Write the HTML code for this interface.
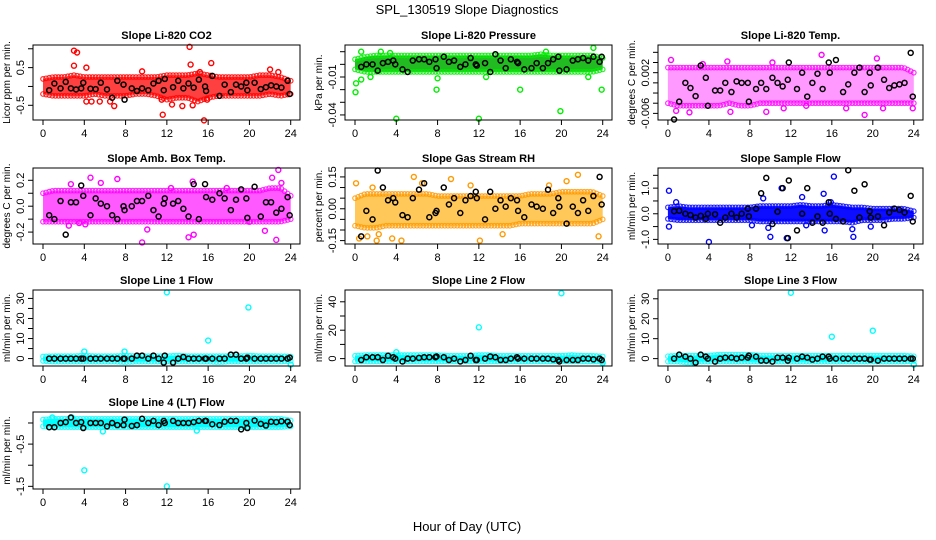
<!DOCTYPE html>
<html><head><meta charset="utf-8">
<style>
html,body{margin:0;padding:0;background:#fff;}
svg{display:block;font-family:"Liberation Sans",Arial,sans-serif;}
</style></head>
<body>
<svg id="chart" width="936" height="540" viewBox="0 0 936 540" xmlns="http://www.w3.org/2000/svg">
<rect x="0" y="0" width="936" height="540" fill="#fff"/>
<text x="467" y="14" font-size="13" text-anchor="middle">SPL_130519  Slope Diagnostics</text>
<text x="467" y="531" font-size="13" text-anchor="middle">Hour of Day (UTC)</text>
</svg>
<script>
const hourTicks=[0,4,8,12,16,20,24];
const blackX=[0.6,1.1,1.7,2.2,2.7,3.2,3.7,3.9,4.6,5.1,5.6,6.2,6.7,7.2,7.8,7.9,8.6,9.1,9.6,10.2,10.7,11.2,11.7,11.8,12.6,13.1,13.6,14.1,14.6,15.1,15.7,15.8,16.4,17.1,17.6,18.2,18.7,19.2,19.7,19.8,20.5,21.1,21.6,22.1,22.6,23.1,23.7,23.9];

const co2Low=[-0.2,-0.25,-0.25,-0.25,-0.25,-0.2,-0.25,-0.25,-0.25,-0.2,-0.2,-0.25,-0.35,-0.3,-0.3,-0.4,-0.3,-0.25,-0.25,-0.25,-0.25,-0.25,-0.2,-0.25,-0.2];
const co2High=[0.2,0.25,0.25,0.3,0.25,0.25,0.25,0.25,0.25,0.25,0.25,0.25,0.3,0.3,0.3,0.35,0.3,0.25,0.25,0.25,0.25,0.3,0.3,0.25,0.15];
const co2Out=[[3,0.95],[3.3,0.9],[3,0.55],[4.2,0.5],[4.2,-0.4],[4.7,-0.4],[5.5,-0.4],[6.5,-0.4],[6.9,-0.52],[9.6,0.4],[11.6,-0.75],[11.5,-0.35],[12.5,-0.48],[13.5,-0.52],[14.2,1.05],[14.3,0.58],[14.5,-0.5],[15.2,0.38],[15.6,-0.9],[16.3,0.62],[15.9,-0.35],[22.8,0.38],[22,0.45]];
const co2Black=[-0.1,0.08,-0.05,0.12,-0.05,-0.08,-0.05,0.1,-0.06,-0.07,0.1,-0.08,-0.3,0.15,0.05,-0.35,-0.05,-0.12,-0.05,-0.1,0.08,0.15,-0.1,0.2,-0.02,0.15,-0.05,0.08,-0.03,0.18,0.0,-0.12,0.28,-0.25,0.05,-0.15,0.05,0.0,0.1,-0.1,0.1,-0.07,-0.02,0.03,0.0,-0.03,0.15,-0.2];

const presLow=[-0.004,-0.006,-0.006,-0.006,-0.006,-0.006,-0.006,-0.006,-0.006,-0.006,-0.006,-0.006,-0.006,-0.006,-0.006,-0.006,-0.006,-0.006,-0.006,-0.006,-0.006,-0.006,-0.006,-0.006,-0.004];
const presHigh=[0.004,0.006,0.007,0.007,0.007,0.007,0.007,0.007,0.007,0.007,0.007,0.007,0.007,0.007,0.007,0.007,0.007,0.007,0.008,0.007,0.007,0.007,0.007,0.007,0.005];
const presOut=[[0.05,-0.022],[0.1,-0.015],[0.6,0.01],[0.6,-0.012],[1.5,-0.01],[2.5,0.01],[3.4,0.009],[4.0,-0.043],[7.9,-0.02],[8.0,-0.011],[12,-0.043],[12.7,-0.01],[16,-0.02],[19.9,-0.037],[23.1,0.013],[23.9,-0.02],[22.6,-0.01],[18.5,0.01]];
const presBlack=[-0.002,0,0,-0.005,0.001,0.002,0.003,0,-0.004,-0.006,0.003,0.004,0.004,0.002,0.004,-0.003,0.006,0.002,0.003,-0.002,0,0.005,0,-0.001,0.001,-0.006,0.008,0.003,-0.003,0.004,0.002,0.001,-0.004,-0.003,0.001,-0.003,0.001,0.004,0.006,-0.005,-0.004,0.003,0.004,0.005,0.003,0.006,0.002,0.006];

const tempLow=[-0.004,-0.0045,-0.0045,-0.0045,-0.0045,-0.0045,-0.004,-0.0045,-0.0045,-0.004,-0.004,-0.004,-0.004,-0.004,-0.004,-0.004,-0.004,-0.004,-0.004,-0.004,-0.004,-0.004,-0.004,-0.004,-0.004];
const tempHigh=[0.003,0.003,0.003,0.003,0.003,0.003,0.003,0.003,0.003,0.003,0.003,0.003,0.003,0.003,0.003,0.003,0.003,0.003,0.003,0.003,0.003,0.003,0.003,0.003,0.002];
const tempOut=[[0.3,0.0045],[0.8,-0.0055],[15,0.0055],[19.2,-0.0063],[20.4,0.0048],[10.2,0.004],[5.8,0.0042],[9.6,-0.0057],[6.1,-0.0057],[2.1,-0.0058],[23.9,-0.005],[17.4,-0.005],[13.5,-0.0045],[3.4,0.0037],[11.3,-0.005],[21,-0.005]];
const tempBlack=[-0.0072,-0.0037,0,-0.001,-0.0026,0.0034,0.001,-0.0045,-0.0015,-0.0015,0,-0.0018,0.0003,0,0,-0.0037,-0.0012,0,-0.0012,0.001,0,-0.0007,0.0006,0.004,-0.0012,0.002,-0.0027,0,0.0018,-0.0012,0.004,0.002,0.0045,-0.0018,-0.0003,0.002,0.003,-0.0018,0.002,-0.0005,0.003,0.0006,-0.001,-0.0005,-0.0003,0,0.0059,-0.0027];

const ambLow=[-0.12,-0.12,-0.12,-0.12,-0.12,-0.12,-0.12,-0.12,-0.12,-0.12,-0.12,-0.12,-0.12,-0.12,-0.12,-0.12,-0.12,-0.12,-0.12,-0.12,-0.12,-0.12,-0.12,-0.12,-0.1];
const ambHigh=[0.1,0.12,0.12,0.12,0.12,0.12,0.12,0.12,0.12,0.12,0.12,0.12,0.12,0.12,0.12,0.12,0.12,0.12,0.12,0.12,0.12,0.12,0.14,0.14,0.08];
const ambOut=[[2.5,-0.15],[2.7,0.17],[3.5,-0.13],[4.6,0.22],[5.6,0.18],[7.2,0.21],[9.6,-0.28],[10.1,-0.18],[12.4,0.14],[14.1,-0.24],[14.6,-0.22],[14.5,0.19],[17.8,0.14],[20,-0.12],[21.5,-0.19],[22.2,0.22],[22.6,-0.26],[22.8,0.28],[23.1,0.18],[4.1,-0.14]];
const ambBlack=[-0.07,-0.1,0.04,-0.22,0.03,0.03,0.16,0.08,-0.07,0.06,0.02,0,-0.07,-0.1,0,-0.03,0,0.04,0.04,0.08,-0.03,-0.08,0.02,0.06,0.02,0.04,-0.02,-0.08,0.17,-0.1,0.17,0.07,0.05,0.1,0.06,-0.03,0.05,0.13,0.06,-0.09,0.15,-0.08,0.03,0.03,-0.05,-0.02,0.07,-0.07];

const rhLow=[-0.08,-0.09,-0.09,-0.08,-0.08,-0.08,-0.08,-0.08,-0.08,-0.08,-0.08,-0.08,-0.08,-0.08,-0.08,-0.08,-0.07,-0.07,-0.07,-0.07,-0.07,-0.07,-0.07,-0.07,-0.05];
const rhHigh=[0.05,0.07,0.07,0.07,0.07,0.07,0.07,0.07,0.06,0.06,0.06,0.06,0.06,0.06,0.06,0.06,0.06,0.07,0.07,0.07,0.08,0.08,0.08,0.08,0.06];
const rhOut=[[0.1,0.12],[0.4,-0.14],[1.2,-0.13],[2.1,-0.15],[2.3,-0.12],[3.6,-0.14],[4.5,-0.15],[5.7,0.15],[6.5,0.12],[9.3,0.14],[11.2,0.11],[12.1,-0.15],[14.3,-0.12],[21.6,0.16],[23.6,-0.13],[1.7,0.1],[18.8,0.11],[20.5,0.13]];
const rhBlack=[-0.13,-0.01,-0.05,0.18,0.1,0.04,0.05,0.03,-0.03,-0.04,0.05,0.09,0.12,-0.04,-0.02,-0.01,0.1,0.02,0.05,-0.02,0.04,0.06,0.08,0.05,-0.05,0.08,0,0.04,0.01,0.05,0.04,-0.01,-0.04,0.02,0.01,0,0.09,-0.02,0.05,0.01,-0.07,0.01,-0.02,0.04,-0.01,0.06,0.15,0.02];

const flowLow=[-0.2,-0.25,-0.25,-0.25,-0.25,-0.25,-0.25,-0.25,-0.25,-0.3,-0.3,-0.3,-0.3,-0.3,-0.3,-0.3,-0.3,-0.3,-0.35,-0.25,-0.25,-0.25,-0.2,-0.2,-0.15];
const flowHigh=[0.25,0.3,0.25,0.25,0.25,0.25,0.25,0.25,0.25,0.3,0.3,0.3,0.3,0.35,0.3,0.3,0.35,0.3,0.25,0.25,0.2,0.2,0.2,0.2,0.1];
const flowOut=[[0.1,0.9],[0.1,-0.5],[0.8,0.45],[4,-1.1],[8.2,-0.45],[9.3,0.6],[9.8,-0.55],[10,-0.9],[11.1,1.0],[11.6,-0.95],[13.1,0.65],[13.5,-0.45],[15.2,0.78],[15.3,-0.65],[16.2,1.45],[18.1,-0.9],[18,-0.6],[19.8,-0.5],[15.9,0.45]];
const flowBlack=[0.1,0.12,0,-0.05,-0.15,-0.08,-0.2,0,-0.02,-0.35,-0.15,0,-0.15,0,0.2,-0.1,0.2,0.8,1.4,-0.4,0.08,1.0,-0.95,1.3,-0.65,0,1.0,-0.35,-0.1,-0.35,0.45,0,-0.2,-0.3,1.7,0.9,-0.15,1.15,0.1,-0.15,-0.1,-0.45,0.05,0.2,0.15,0.05,0.7,-0.3];

const l1Low=[-1.2,-1.5,-1.5,-1.5,-1.5,-1.5,-1.5,-1.5,-1.8,-1.5,-1.5,-1.5,-1.5,-1.5,-1.5,-1.5,-1.5,-1.8,-1.5,-1.5,-1.5,-1.5,-1.5,-1.5,-1.2];
const l1High=[1.0,1.2,1.2,1.2,1.5,1.2,1.2,1.2,1.5,1.2,1.2,1.2,1.2,1.5,1.2,1.2,1.2,1.2,1.2,1.2,1.5,1.2,1.2,1.2,1.0];
const l1Out=[[4,3.5],[7.9,3.5],[12,33],[16,9],[19.9,25.5],[24,-3]];
const l1Black=[0,0,0,0,0,0,0,0,0,0,0,0,0,0,0,0,0,1.5,1.5,0,1.5,0,-2,1.5,-2,0,0.8,0,0,0,0,0,0,0,0,2,2,0,0,0.5,0,0,0,0,0,0,0,0.5];

const l2Low=[-2,-2,-2,-2,-2,-2,-2,-2,-2,-2,-2,-2,-2,-2,-2,-2,-2,-2,-2,-2,-2,-2,-2,-2,-2];
const l2High=[2,2.5,2.5,2.5,2.5,2.5,2.5,2.5,2.5,2,2,2,2.5,2.5,2,2,2,2,2,2,2,2.5,2,2,1.5];
const l2Out=[[4,4.5],[12,22],[20,46],[24,-3]];
const l2Black=[-1,1,1,1,-1,2,1,0,-2,0,0,0.5,1,1,1,1.5,1,-1,0,-2,-1,2,-1,-1,0,1.5,1,-1,-1,0,1,0,0,0,0,0,0,-0.5,-1,-2,-1,-1,-1,0,0,-0.5,0,-1];

const l3Low=[-1.5,-1.5,-2,-1.5,-1.5,-1.5,-1.5,-1.5,-1.5,-1.5,-1.5,-1.5,-1.5,-1.5,-1.5,-1.5,-1.5,-1.5,-1.5,-1.5,-1.5,-1.5,-1.5,-1.5,-1.2];
const l3High=[1.2,1.5,1.5,1.5,1.5,2,2,2,2,1.5,1.5,1.5,1.5,1.5,1.5,1.5,1.5,1.5,1.5,1.5,1.5,1.5,1.5,1.5,1.2];
const l3Out=[[12,33],[16,11],[20,14],[24,-3],[2.5,-2]];
const l3Black=[0,2,1,0,-2,2,1,0,-1.5,0,0.5,0.5,0,0.5,0.5,1.5,1,-1,-1,-1.5,0.5,0.5,-1,0.5,0,1,0.5,-0.5,0,1,1,0,0,0,0,0,0,0,-0.5,-0.5,-1,0,0,0,0,0,0,0];

const l4Low=[-0.08,-0.1,-0.1,-0.1,-0.1,-0.1,-0.1,-0.1,-0.1,-0.1,-0.1,-0.1,-0.1,-0.1,-0.1,-0.1,-0.1,-0.1,-0.1,-0.1,-0.1,-0.1,-0.1,-0.1,-0.08];
const l4High=[0.08,0.1,0.1,0.1,0.1,0.1,0.1,0.1,0.1,0.1,0.1,0.1,0.1,0.1,0.1,0.1,0.1,0.1,0.1,0.1,0.1,0.1,0.1,0.1,0.06];
const l4Out=[[4,-1.12],[12,-1.5],[0.9,0.13],[2.8,0.13],[5.8,-0.2],[14.9,-0.18]];
const l4Black=[-0.1,-0.1,0.0,0.02,0.13,0.0,0.02,-0.12,0.0,0.0,0.0,-0.08,0.0,-0.05,-0.05,0.08,-0.07,-0.05,0.1,0.0,0.05,-0.05,0.05,0.0,0.05,0.0,0.0,0.0,0.02,0.05,0.05,0.05,-0.03,-0.05,0.03,0.05,0.05,-0.15,0.0,-0.12,0.06,-0.02,-0.06,0.03,0.02,0.04,0.03,-0.05];

const cols=[[33,300],[345,612],[658,923]];
const rows=[[45,120],[168,244],[290,366],[412,489]];
const panels=[
 {name:'co2',title:'Slope Li-820 CO2',ylab:'Licor ppm per min.',c:0,r:0,y0:-0.89,y1:1.10,ticks:[-0.5,0,0.5,1.0],labels:{'-0.5':'-0.5','0.5':'0.5'},low:co2Low,high:co2High,out:co2Out,blk:co2Black,col:'#ff0000',fill:'#ff0000',op:0.75},
 {name:'pressure',title:'Slope Li-820 Pressure',ylab:'kPa per min.',c:1,r:0,y0:-0.044,y1:0.0153,ticks:[-0.04,-0.03,-0.02,-0.01,0,0.01],labels:{'-0.04':'-0.04','-0.01':'-0.01'},low:presLow,high:presHigh,out:presOut,blk:presBlack,col:'#00ee00',fill:'#22bb22',op:1},
 {name:'li820-temp',title:'Slope Li-820 Temp.',ylab:'degrees C per min.',c:2,r:0,y0:-0.0073,y1:0.00744,ticks:[-0.006,-0.004,-0.002,0,0.002,0.004,0.006],labels:{'-0.006':'-0.006','0.002':'0.002'},low:tempLow,high:tempHigh,out:tempOut,blk:tempBlack,col:'#ff00ff',fill:'#ff00ff',op:0.4},
 {name:'amb-box-temp',title:'Slope Amb. Box Temp.',ylab:'degrees C per min.',c:0,r:1,y0:-0.292,y1:0.295,ticks:[-0.2,-0.1,0,0.1,0.2],labels:{'-0.2':'-0.2','0':'0.0','0.2':'0.2'},low:ambLow,high:ambHigh,out:ambOut,blk:ambBlack,col:'#ff00ff',fill:'#ff00ff',op:0.65},
 {name:'gas-stream-rh',title:'Slope Gas Stream RH',ylab:'percent per min.',c:1,r:1,y0:-0.166,y1:0.192,ticks:[-0.15,-0.1,-0.05,0,0.05,0.1,0.15],labels:{'-0.15':'-0.15','0':'0.00','0.15':'0.15'},low:rhLow,high:rhHigh,out:rhOut,blk:rhBlack,col:'#ff9900',fill:'#ffaa00',op:0.65},
 {name:'sample-flow',title:'Slope Sample Flow',ylab:'ml/min per min.',c:2,r:1,y0:-1.18,y1:1.786,ticks:[-1,-0.5,0,0.5,1,1.5],labels:{'-1':'-1.0','0':'0.0','1':'1.0'},low:flowLow,high:flowHigh,out:flowOut,blk:flowBlack,col:'#0000ff',fill:'#0000ff',op:0.95},
 {name:'line1-flow',title:'Slope Line 1 Flow',ylab:'ml/min per min.',c:0,r:2,y0:-3.7,y1:34.2,ticks:[0,5,10,15,20,25,30],labels:{'0':'0','10':'10','20':'20','30':'30'},low:l1Low,high:l1High,out:l1Out,blk:l1Black,col:'#00ffff',fill:'#00ffff',op:1},
 {name:'line2-flow',title:'Slope Line 2 Flow',ylab:'ml/min per min.',c:1,r:2,y0:-5.2,y1:48.3,ticks:[0,10,20,30,40],labels:{'0':'0','20':'20','40':'40'},low:l2Low,high:l2High,out:l2Out,blk:l2Black,col:'#00ffff',fill:'#00ffff',op:1},
 {name:'line3-flow',title:'Slope Line 3 Flow',ylab:'ml/min per min.',c:2,r:2,y0:-3.7,y1:34.4,ticks:[0,10,20,30],labels:{'0':'0','10':'10','20':'20','30':'30'},low:l3Low,high:l3High,out:l3Out,blk:l3Black,col:'#00ffff',fill:'#00ffff',op:1},
 {name:'line4-flow',title:'Slope Line 4 (LT) Flow',ylab:'ml/min per min.',c:0,r:3,y0:-1.563,y1:0.26,ticks:[-1.5,-1,-0.5,0],labels:{'-1.5':'-1.5','-0.5':'-0.5'},low:l4Low,high:l4High,out:l4Out,blk:l4Black,col:'#00ffff',fill:'#00ffff',op:1}
];
const NS='http://www.w3.org/2000/svg';
const svg=document.getElementById('chart');
function mk(tag,attrs,parent){const e=document.createElementNS(NS,tag);for(const k in attrs)e.setAttribute(k,attrs[k]);(parent||svg).appendChild(e);return e;}
const X0=-0.97,X1=24.9;
function interp(arr,h){const i=Math.max(0,Math.min(23,Math.floor(h)));const f=h-i;return arr[i]*(1-f)+arr[i+1]*f;}
panels.forEach(p=>{
 const L=cols[p.c][0],R=cols[p.c][1],T=rows[p.r][0],B=rows[p.r][1];
 const xs=h=>L+(h-X0)/(X1-X0)*(R-L);
 const ys=v=>B-(v-p.y0)/(p.y1-p.y0)*(B-T);
 const g=mk('g',{});
 
 
 const t=mk('text',{x:(L+R)/2,y:T-6,'font-size':'11','font-weight':'bold','text-anchor':'middle'},g);
 t.textContent=p.title;
 
 
 let pts=[];
 for(let h=0;h<=24.001;h+=0.25)pts.push(xs(h).toFixed(1)+','+ys(interp(p.high,h)).toFixed(1));
 for(let h=24;h>=-0.001;h-=0.25)pts.push(xs(h).toFixed(1)+','+ys(interp(p.low,h)).toFixed(1));
 const band=mk('polygon',{points:pts.join(' '),fill:p.fill,'fill-opacity':p.op,stroke:'none'},g);
 
 
 for(let h=0;h<=24.001;h+=0.3){
  [p.high,p.low].forEach(a=>{
   const c=mk('circle',{cx:xs(h),cy:ys(interp(a,h)),r:2.3,fill:'none',stroke:p.col,'stroke-width':1.2,'stroke-opacity':0.8},g);
   
   
  });
 }
 p.out.forEach(o=>{
  const c=mk('circle',{cx:xs(o[0]),cy:ys(o[1]),r:2.5,fill:'none',stroke:p.col,'stroke-width':1.4},g);
  
  
 });
 p.blk.forEach((v,i)=>{
  const c=mk('circle',{cx:xs(blackX[i]),cy:ys(v),r:2.5,fill:'none',stroke:'#000','stroke-width':1.5},g);
  
  
 });
 const box=mk('rect',{x:L,y:T,width:R-L,height:B-T,fill:'none',stroke:'#000','stroke-width':1},g);
 
 
 hourTicks.forEach(h=>{
  mk('line',{x1:xs(h),x2:xs(h),y1:B,y2:B+5,stroke:'#000'},g);
  const tl=mk('text',{x:xs(h),y:B+17,'font-size':'11','text-anchor':'middle'},g);
  tl.textContent=h;
  
  
 });
 p.ticks.forEach(v=>{
  const y=ys(v);
  mk('line',{x1:L-5,x2:L,y1:y,y2:y,stroke:'#000'},g);
  const key=String(v);
  if(p.labels[key]!==undefined){
   const tl=mk('text',{x:0,y:0,'font-size':'11','text-anchor':'middle',transform:`translate(${L-9},${y}) rotate(-90)`},g);
   tl.textContent=p.labels[key];
   
   
  }
 });
 const yl=mk('text',{x:0,y:0,'font-size':'10','text-anchor':'middle',transform:`translate(${L-23},${(T+B)/2}) rotate(-90)`},g);
 yl.textContent=p.ylab;
 
 
});
</script>
</body></html>
